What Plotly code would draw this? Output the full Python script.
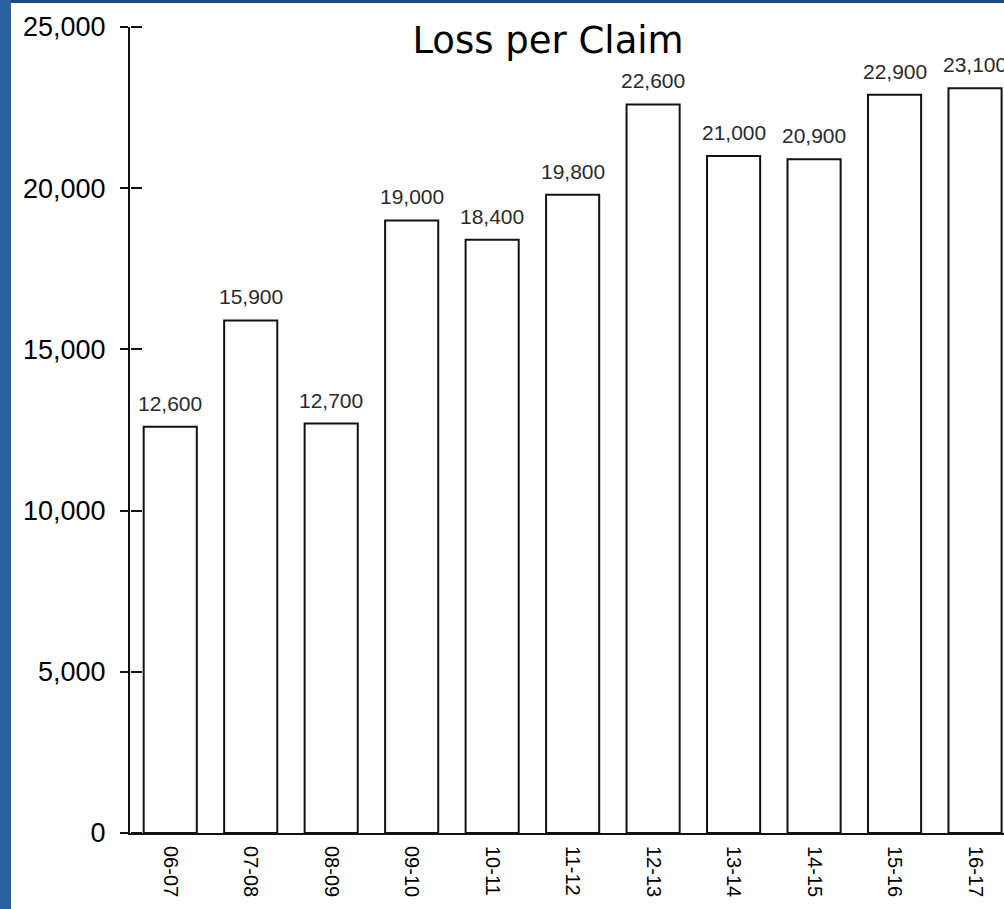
import plotly.graph_objects as go

# Fiscal years and average loss per claim
years = ["06-07", "07-08", "08-09", "09-10", "10-11", "11-12",
         "12-13", "13-14", "14-15", "15-16", "16-17"]
loss_per_claim = [12600, 15900, 12700, 19000, 18400, 19800,
                  22600, 21000, 20900, 22900, 23100]

y_ticks = [0, 5000, 10000, 15000, 20000, 25000]
y_tick_text = ["0", "5,000", "10,000", "15,000", "20,000", "25,000"]

W, H = 1004, 909
M_L, M_R, M_T, M_B = 130, 0, 27, 76
PLOT_W = W - M_L - M_R
PLOT_H = H - M_T - M_B

fig = go.Figure()

fig.add_trace(go.Bar(
    x=years,
    y=loss_per_claim,
    marker=dict(color="white", line=dict(color="#121212", width=2)),
    hoverinfo="skip",
    showlegend=False,
))

# invisible companion trace so the secondary axis (inner tick marks) is drawn
fig.add_trace(go.Scatter(
    x=years, y=loss_per_claim, yaxis="y2",
    mode="markers", marker=dict(opacity=0),
    hoverinfo="skip", showlegend=False,
))

# value labels above each bar
for yr, v in zip(years, loss_per_claim):
    fig.add_annotation(
        x=yr, y=v, xref="x", yref="y",
        text=f"{v:,}",
        showarrow=False,
        yanchor="bottom",
        yshift=10,
        font=dict(family="Liberation Sans, Arial", size=21, color="#2a2a2a"),
    )

# white slide panel over the blue background
fig.add_shape(
    type="rect", xref="paper", yref="paper",
    x0=(11 - M_L) / PLOT_W, x1=1.2,
    y0=-0.3, y1=(H - M_B - 3) / PLOT_H,
    fillcolor="white", line=dict(width=0), layer="below",
)
# darker band along the top edge of the slide
fig.add_shape(
    type="rect", xref="paper", yref="paper",
    x0=(11 - M_L) / PLOT_W, x1=1.2,
    y0=(H - M_B - 3) / PLOT_H, y1=(H - M_B + 2) / PLOT_H,
    fillcolor="#1c4a7c", line=dict(width=0), layer="below",
)

fig.update_layout(
    width=W, height=H,
    margin=dict(l=M_L, r=M_R, t=M_T, b=M_B, pad=0),
    paper_bgcolor="#2a609c",
    plot_bgcolor="rgba(0,0,0,0)",
    bargap=0.34,
    title=dict(
        text="Loss per Claim",
        x=548 / W, xanchor="center",
        y=1 - 40 / H, yanchor="middle",
        font=dict(family="DejaVu Sans", size=37, color="black"),
    ),
    xaxis=dict(
        type="category",
        range=[-0.5, 10.36],
        showline=True, linecolor="#121212", linewidth=2,
        ticks="", tickangle=90,
        ticklabelstandoff=7,
        tickfont=dict(family="Liberation Sans, Arial", size=20, color="black"),
        showgrid=False, zeroline=False,
        fixedrange=True,
    ),
    yaxis=dict(
        range=[0, 25000],
        tickvals=y_ticks, ticktext=y_tick_text,
        showline=True, linecolor="#121212", linewidth=2,
        ticks="outside", ticklen=8, tickwidth=2, tickcolor="#121212",
        ticklabelstandoff=9,
        tickfont=dict(family="Liberation Sans, Arial", size=27, color="black"),
        showgrid=False, zeroline=False,
    ),
    # right-sided axis pinned to the left edge: its ticks point into the plot
    yaxis2=dict(
        range=[0, 25000], overlaying="y", side="right",
        anchor="free", position=0,
        tickvals=y_ticks, showticklabels=False,
        ticks="outside", ticklen=11, tickwidth=2, tickcolor="#121212",
        showline=False, showgrid=False, zeroline=False,
    ),
)

fig.write_html("out.html")
